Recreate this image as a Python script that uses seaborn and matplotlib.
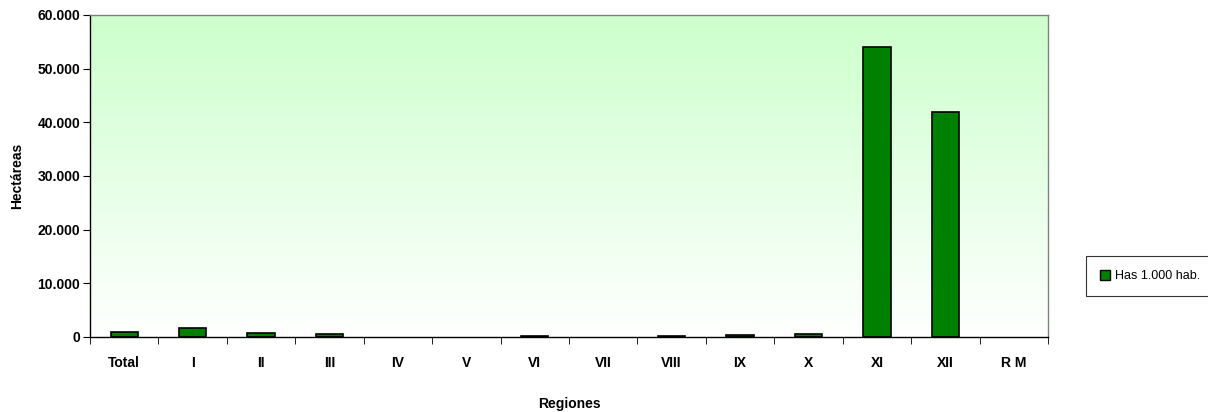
import numpy as np
import pandas as pd
import matplotlib
matplotlib.use("Agg")
import matplotlib.pyplot as plt
import seaborn as sns
from matplotlib.patches import Patch

categories = ["Total", "I", "II", "III", "IV", "V", "VI", "VII", "VIII", "IX", "X", "XI", "XII", "R M"]
values = [900, 1600, 800, 500, 0, 0, 100, 0, 100, 350, 600, 54000, 42000, 0]
yticks = [0, 10000, 20000, 30000, 40000, 50000, 60000]
ytick_labels = ["0", "10.000", "20.000", "30.000", "40.000", "50.000", "60.000"]
series_name = "Has 1.000 hab."

sns.set_style("white")
plt.rcParams['font.family'] = ['Liberation Sans Narrow', 'Liberation Sans', 'DejaVu Sans']
plt.rcParams['text.color'] = 'black'
plt.rcParams['axes.labelcolor'] = 'black'
plt.rcParams['xtick.color'] = 'black'
plt.rcParams['ytick.color'] = 'black'

df = pd.DataFrame({"Region": categories, "Has": values})

fig = plt.figure(figsize=(12.08, 4.12), dpi=100)
ax = fig.add_axes([90/1208, 75/412, (1048-90)/1208, (337-15)/412])

# gradient background
grad = np.linspace(0, 1, 256).reshape(-1, 1)
top = np.array([0.80, 1.0, 0.80])
bot = np.array([1.0, 1.0, 1.0])
img = bot[None, None, :] * (1 - grad[:, :, None]) + top[None, None, :] * grad[:, :, None]
ax.imshow(img, extent=[-0.5, len(categories) - 0.5, 0, 60000], origin="lower",
          aspect="auto", zorder=0)

sns.barplot(data=df, x="Region", y="Has", color="#008000", edgecolor="black",
            linewidth=1.2, width=0.4, saturation=1, ax=ax, zorder=2)
for p, v in zip(ax.patches, values):
    if v == 0:
        p.set_linewidth(0)

ax.set_xlim(-0.5, len(categories) - 0.5)
ax.set_ylim(0, 60000)
ax.set_yticks(yticks)
ax.set_yticklabels(ytick_labels, fontsize=10, fontweight="bold")
ax.set_xticks(range(len(categories)))
ax.set_xticklabels(categories, fontsize=10, fontweight="bold")
ax.tick_params(axis="x", length=0, pad=14)
ax.set_xticks(np.arange(-0.5, len(categories) + 0.5, 1), minor=True)
ax.tick_params(axis="x", which="minor", length=5, direction="out", color="black", bottom=True)
ax.tick_params(axis="y", length=5, direction="out", color="black", left=True, pad=2)

ax.set_xlabel("Regiones", fontsize=10, fontweight="bold", labelpad=19)
ax.set_ylabel("Hectáreas", fontsize=10, fontweight="bold", labelpad=10)

for s in ["top", "right"]:
    ax.spines[s].set_color("#808080")
    ax.spines[s].set_linewidth(1)
for s in ["left", "bottom"]:
    ax.spines[s].set_color("black")
    ax.spines[s].set_linewidth(1)

handles = [Patch(facecolor="#008000", edgecolor="black", label=series_name)]
leg = fig.legend(handles=handles, loc="center left", bbox_to_anchor=(1080/1208, (412-276)/412),
                 fontsize=9, frameon=True, fancybox=False, handlelength=0.8, handleheight=0.8,
                 handletextpad=0.4, borderpad=1.1, edgecolor="black")
leg.get_frame().set_linewidth(0.8)

fig.savefig("out.png", dpi=100)
